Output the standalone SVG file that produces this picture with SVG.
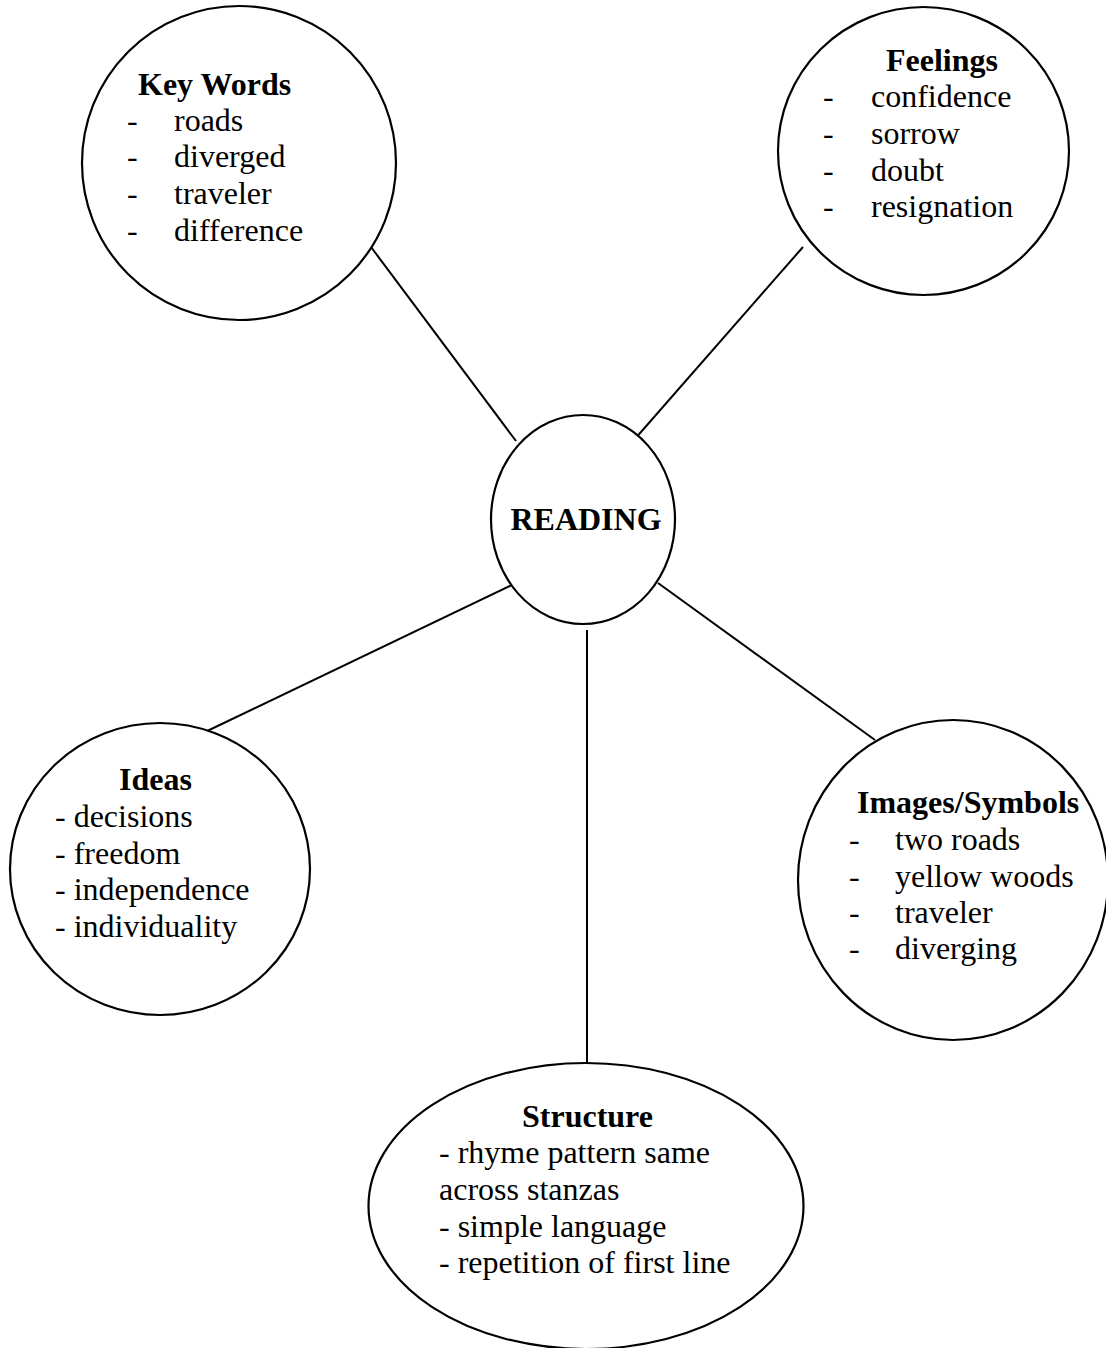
<svg xmlns="http://www.w3.org/2000/svg" width="1106" height="1348" viewBox="0 0 1106 1348">
<style>
.node{fill:#fff;stroke:#000;stroke-width:2.2}
.conn line{stroke:#000;stroke-width:2}
text{font-family:"Liberation Serif","Times New Roman",serif;font-size:32px;fill:#000}
.h{font-weight:bold}
</style>
<rect width="1106" height="1348" fill="#fff"/>
<g id="connectors" class="conn">
<line x1="371" y1="247" x2="516" y2="441"/>
<line x1="803" y1="247" x2="634" y2="440"/>
<line x1="516" y1="583" x2="203" y2="733"/>
<line x1="658" y1="583" x2="875" y2="740"/>
<line x1="587" y1="630" x2="587" y2="1067"/>
</g>
<g id="keywords">
<ellipse class="node" cx="239" cy="163" rx="157" ry="157"/>
<text class="h" x="138" y="95">Key Words</text>
<text x="127" y="131">-</text><text x="174" y="131">roads</text>
<text x="127" y="167">-</text><text x="174" y="167">diverged</text>
<text x="127" y="204">-</text><text x="174" y="204">traveler</text>
<text x="127" y="241">-</text><text x="174" y="241">difference</text>
</g>
<g id="feelings">
<ellipse class="node" cx="923.5" cy="151" rx="145.5" ry="144"/>
<text class="h" x="886" y="71">Feelings</text>
<text x="823" y="107">-</text><text x="871" y="107">confidence</text>
<text x="823" y="144">-</text><text x="871" y="144">sorrow</text>
<text x="823" y="181">-</text><text x="871" y="181">doubt</text>
<text x="823" y="217">-</text><text x="871" y="217">resignation</text>
</g>
<g id="reading">
<ellipse class="node" cx="583" cy="519.5" rx="92" ry="104.5"/>
<text class="h" x="586" y="530" text-anchor="middle">READING</text>
</g>
<g id="ideas">
<ellipse class="node" cx="160" cy="869" rx="150" ry="146"/>
<text class="h" x="119" y="790">Ideas</text>
<text x="55" y="827">- decisions</text>
<text x="55" y="864">- freedom</text>
<text x="55" y="900">- independence</text>
<text x="55" y="937">- individuality</text>
</g>
<g id="images">
<ellipse class="node" cx="953" cy="880" rx="155" ry="160"/>
<text class="h" x="857" y="813">Images/Symbols</text>
<text x="849" y="850">-</text><text x="895" y="850">two roads</text>
<text x="849" y="887">-</text><text x="895" y="887">yellow woods</text>
<text x="849" y="923">-</text><text x="895" y="923">traveler</text>
<text x="849" y="959">-</text><text x="895" y="959">diverging</text>
</g>
<g id="structure">
<ellipse class="node" cx="586" cy="1206" rx="217.5" ry="143"/>
<text class="h" x="522" y="1127">Structure</text>
<text x="439" y="1163">- rhyme pattern same</text>
<text x="439" y="1200">across stanzas</text>
<text x="439" y="1237">- simple language</text>
<text x="439" y="1273">- repetition of first line</text>
</g>
</svg>
